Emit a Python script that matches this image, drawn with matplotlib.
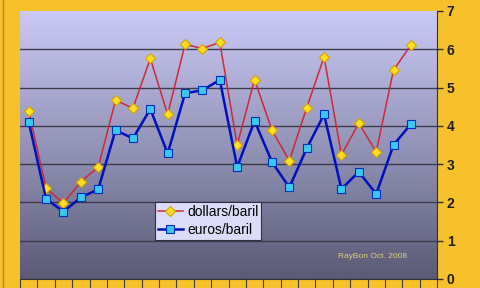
import numpy as np
import matplotlib
matplotlib.use("Agg")
import matplotlib.pyplot as plt
from matplotlib.colors import LinearSegmentedColormap
from matplotlib.lines import Line2D

plt.rcParams['font.family'] = ['Liberation Sans', 'DejaVu Sans']

categories = list(range(24))
dollars = [4.39, 2.37, 1.98, 2.54, 2.92, 4.67, 4.46, 5.76, 4.30, 6.13, 6.02, 6.18,
           3.50, 5.21, 3.89, 3.09, 4.47, 5.80, 3.24, 4.07, 3.32, 5.46, 6.11]
euros = [4.11, 2.09, 1.76, 2.13, 2.34, 3.89, 3.67, 4.44, 3.28, 4.85, 4.93, 5.20,
         2.92, 4.13, 3.06, 2.39, 3.41, 4.30, 2.35, 2.80, 2.22, 3.50, 4.05]
y_ticks = [0, 1, 2, 3, 4, 5, 6, 7]
labels = ["dollars/baril", "euros/baril"]
credit = "RayBon Oct. 2008"

fig = plt.figure(figsize=(4.8, 2.88), dpi=100)
fig.patch.set_facecolor("#f6c12a")
ax = fig.add_axes([20/480, 1 - 279/288, 417/480, 268/288])

# gradient background
cmap = LinearSegmentedColormap.from_list("bg", ["#5a5a76", "#9494b8", "#cacaf6"])
grad = np.linspace(0, 1, 256).reshape(-1, 1)
ax.imshow(grad, aspect="auto", cmap=cmap, origin="lower",
          extent=[-0.5, len(categories) - 0.5, 0, 7], zorder=0)

ax.set_xlim(-0.5, len(categories) - 0.5)
ax.set_ylim(0, 7)

for v in y_ticks[1:-1]:
    ax.axhline(v, color="#3c3c4c", lw=1.0, zorder=1)

x = np.arange(len(dollars))
ax.plot(x, dollars, color="#d02838", lw=1.1, marker="D", ms=5.5,
        mfc="#ffe020", mec="#d8a000", mew=0.8, label=labels[0], zorder=3)
ax.plot(np.arange(len(euros)), euros, color="#0010c0", lw=1.8, marker="s", ms=5.5,
        mfc="#38c8f0", mec="#0030c0", mew=0.8, label=labels[1], zorder=3)

ax.yaxis.tick_right()
ax.set_yticks(y_ticks)
ax.set_yticklabels([str(t) for t in y_ticks], fontsize=10, fontweight="bold",
                   color="#202020")
ax.tick_params(axis="y", direction="out", length=4, width=1, color="#303030", pad=3)
ax.set_xticks(np.arange(len(categories) + 1) - 0.5)
ax.set_xticklabels([])
ax.tick_params(axis="x", direction="out", length=8, width=0.8, color="#404040")

for s in ["left", "top"]:
    ax.spines[s].set_visible(False)
ax.spines["right"].set_color("#303030")
ax.spines["bottom"].set_color("#303030")

leg = ax.legend(loc="upper left", bbox_to_anchor=(135/417, (279-202)/268),
                fontsize=10, frameon=True, fancybox=False, borderpad=0.2,
                handlelength=1.8, handletextpad=0.3, labelspacing=0.3,
                borderaxespad=0)
leg.get_frame().set_facecolor("#dcdcf8")
leg.get_frame().set_edgecolor("#303040")
leg.get_frame().set_alpha(1)
leg.get_frame().set_linewidth(0.8)

ax.text((372 - 20) / 417, (279 - 256) / 268, credit, fontsize=6, color="#d8d070",
        transform=ax.transAxes, ha="center", va="center")

fig.add_artist(Line2D([3/480, 3/480], [0, 1], transform=fig.transFigure,
                      color="#b08830", lw=1))

fig.savefig("out.png", dpi=100, facecolor=fig.get_facecolor())
